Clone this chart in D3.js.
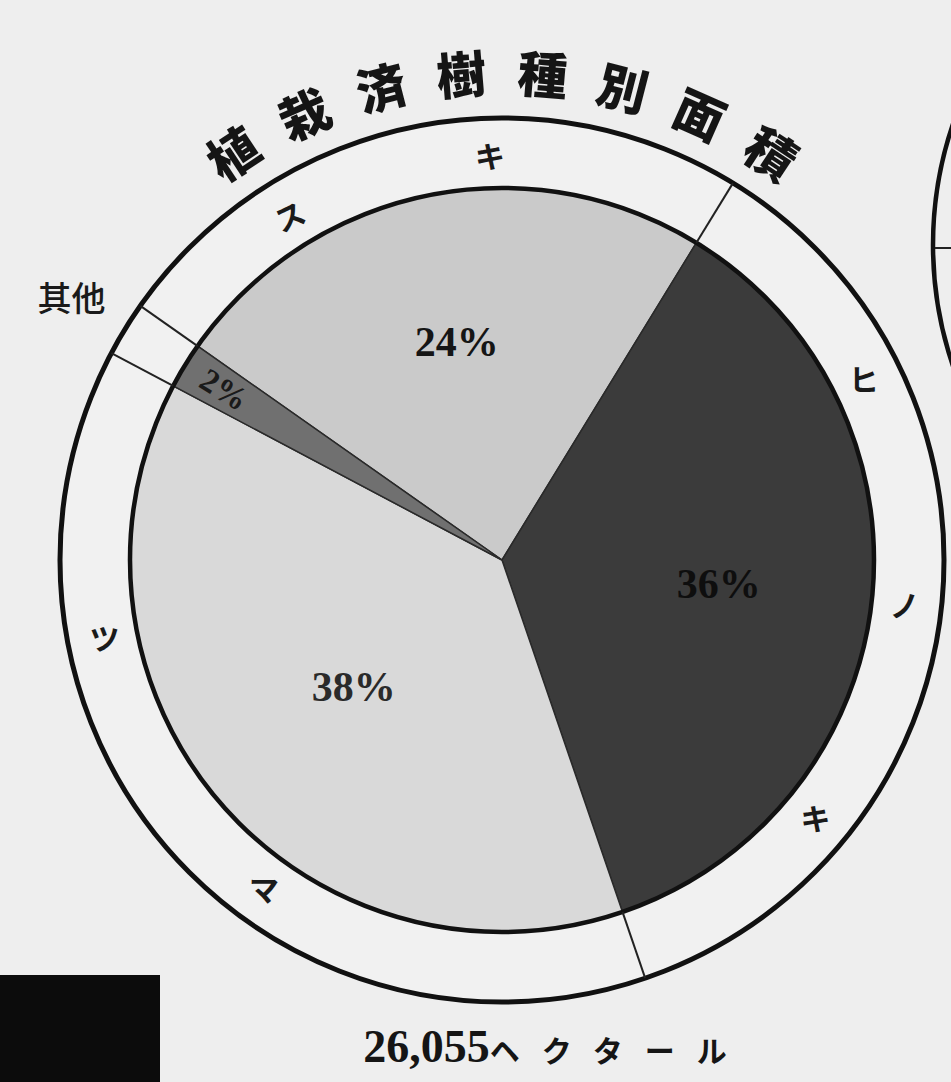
<!DOCTYPE html>
<html><head><meta charset="utf-8">
<script src="https://cdn.jsdelivr.net/npm/d3@7"></script>
<style>
html,body{margin:0;padding:0;background:#eeeeee;}
svg{display:block;}
</style></head>
<body>
<svg id="chart" width="951" height="1082"></svg>
<script>
// ---- data ----
const categories = ["スギ", "ヒノキ", "マツ", "其他"];
const ringLabels = ["スキ", "ヒノキ", "マツ"];   // as printed on the ring
const values = [24, 36, 38, 2];
const pctLabels = ["24%", "36%", "38%", "2%"];
const titleText = "植栽済樹種別面積";
const totalNumber = "26,055";
const totalUnit = "ヘクタール";

// ---- style / layout ----
const fills = ["#cacaca", "#3b3b3b", "#d9d9d9", "#707070"];
const cx = 502, cy = 560, rIn = 372, rOut = 442;
const startDeg = -54.9;
const rad = d => d * Math.PI / 180;

const svg = d3.select("#chart");
svg.append("rect").attr("width", 951).attr("height", 1082).attr("fill", "#eeeeee");

const g = svg.append("g").attr("transform", `translate(${cx},${cy})`);

const pie = d3.pie().sort(null).value(d => d)
  .startAngle(rad(startDeg)).endAngle(rad(startDeg) + 2 * Math.PI);
const arcs = pie(values);
const arc = d3.arc().innerRadius(0).outerRadius(rIn);

// outer ring background
g.append("circle").attr("r", rOut).attr("fill", "#f1f1f1");

// slices
g.selectAll("path.slice").data(arcs).join("path")
  .attr("class", "slice")
  .attr("d", arc)
  .attr("fill", (d, i) => fills[i])
  .attr("stroke", "#2a2a2a").attr("stroke-width", 1.5);

// circles
g.append("circle").attr("r", rIn).attr("fill", "none").attr("stroke", "#111").attr("stroke-width", 4.5);
g.append("circle").attr("r", rOut).attr("fill", "none").attr("stroke", "#111").attr("stroke-width", 5);

// ring dividers at slice boundaries
const pt = (a, r) => [r * Math.sin(a), -r * Math.cos(a)];
g.selectAll("line.div").data(arcs).join("line")
  .attr("class", "div")
  .attr("x1", d => pt(d.startAngle, rIn)[0]).attr("y1", d => pt(d.startAngle, rIn)[1])
  .attr("x2", d => pt(d.startAngle, rOut)[0]).attr("y2", d => pt(d.startAngle, rOut)[1])
  .attr("stroke", "#222").attr("stroke-width", 2);

// percentage labels
const pctR = [223, 218, 195, 326];
const pctSize = [42, 42, 42, 33];
const pctColor = ["#151515", "#0e0e0e", "#2a2a2a", "#1a1a1a"];
g.selectAll("text.pct").data(arcs).join("text")
  .attr("class", "pct")
  .attr("transform", (d, i) => {
    const m = (d.startAngle + d.endAngle) / 2;
    const p = pt(m, pctR[i]);
    const rot = i === 3 ? (m * 180 / Math.PI) - 270 : 0;
    return `translate(${p[0]},${p[1]}) rotate(${rot})`;
  })
  .attr("text-anchor", "middle").attr("dominant-baseline", "central")
  .attr("font-family", "'Liberation Serif','DejaVu Serif',serif")
  .attr("font-size", (d, i) => pctSize[i])
  .attr("font-weight", "bold")
  .attr("fill", (d, i) => pctColor[i])
  .text((d, i) => pctLabels[i]);

// ring labels (category names, one char at a time)
const ringR = 405;
const ringSpacing = [30, 33, 43];
const ringOffset = [-5, 0, 8];
const ringChars = [];
arcs.forEach((d, i) => {
  if (i > 2) return;
  const chars = Array.from(ringLabels[i]);
  const mid = (d.startAngle + d.endAngle) / 2 * 180 / Math.PI + ringOffset[i];
  chars.forEach((c, k) => {
    ringChars.push({ c, a: mid + (k - (chars.length - 1) / 2) * ringSpacing[i] });
  });
});
g.selectAll("text.ring").data(ringChars).join("text")
  .attr("class", "ring")
  .attr("transform", d => {
    const p = pt(rad(d.a), ringR);
    const rot = d.a < 0 && d.a > -60 ? d.a * 0.8 : 0;
    return `translate(${p[0]},${p[1]}) rotate(${rot})`;
  })
  .attr("text-anchor", "middle").attr("dominant-baseline", "central")
  .attr("font-family", "'Noto Sans CJK JP',sans-serif")
  .attr("font-size", 30).attr("font-weight", "bold").attr("fill", "#1a1a1a")
  .text(d => d.c);

// "其他" outside the ring
{
  const d = arcs[3];
  const m = (d.startAngle + d.endAngle) / 2;
  const p = pt(m, 505);
  g.append("text")
    .attr("x", p[0]).attr("y", p[1])
    .attr("text-anchor", "middle").attr("dominant-baseline", "central")
    .attr("font-family", "'Noto Sans CJK JP',sans-serif")
    .attr("font-size", 34).attr("font-weight", "500").attr("fill", "#1a1a1a")
    .text(categories[3]);
}

// arched title
const tChars = Array.from(titleText);
const tSpan = 67;
g.selectAll("text.title").data(tChars).join("text")
  .attr("class", "title")
  .attr("transform", (c, k) => {
    const a = -tSpan / 2 + k * tSpan / (tChars.length - 1);
    const p = pt(rad(a), 490);
    return `translate(${p[0]},${p[1]}) rotate(${a})`;
  })
  .attr("text-anchor", "middle").attr("dominant-baseline", "central")
  .attr("font-family", "'Noto Sans CJK JP',sans-serif")
  .attr("font-size", 50).attr("font-weight", "900").attr("fill", "#151515")
  .text(c => c);

// total label
const tot = svg.append("text")
  .attr("x", 556).attr("y", 1062)
  .attr("text-anchor", "middle")
  .attr("fill", "#151515");
tot.append("tspan")
  .attr("font-family", "'Liberation Serif','DejaVu Serif',serif")
  .attr("font-size", 46).attr("font-weight", "bold")
  .text(totalNumber);
tot.append("tspan")
  .attr("font-family", "'Noto Sans CJK JP',sans-serif")
  .attr("font-size", 30).attr("font-weight", "bold")
  .attr("letter-spacing", 22)
  .text(totalUnit);

// neighbouring page fragments
svg.append("rect").attr("x", 0).attr("y", 975).attr("width", 160).attr("height", 107).attr("fill", "#0c0c0c");
svg.append("circle").attr("cx", 1309).attr("cy", 245).attr("r", 376)
  .attr("fill", "none").attr("stroke", "#111").attr("stroke-width", 4.5);
svg.append("line").attr("x1", 935).attr("y1", 248).attr("x2", 951).attr("y2", 248)
  .attr("stroke", "#222").attr("stroke-width", 2);
</script>
</body></html>
